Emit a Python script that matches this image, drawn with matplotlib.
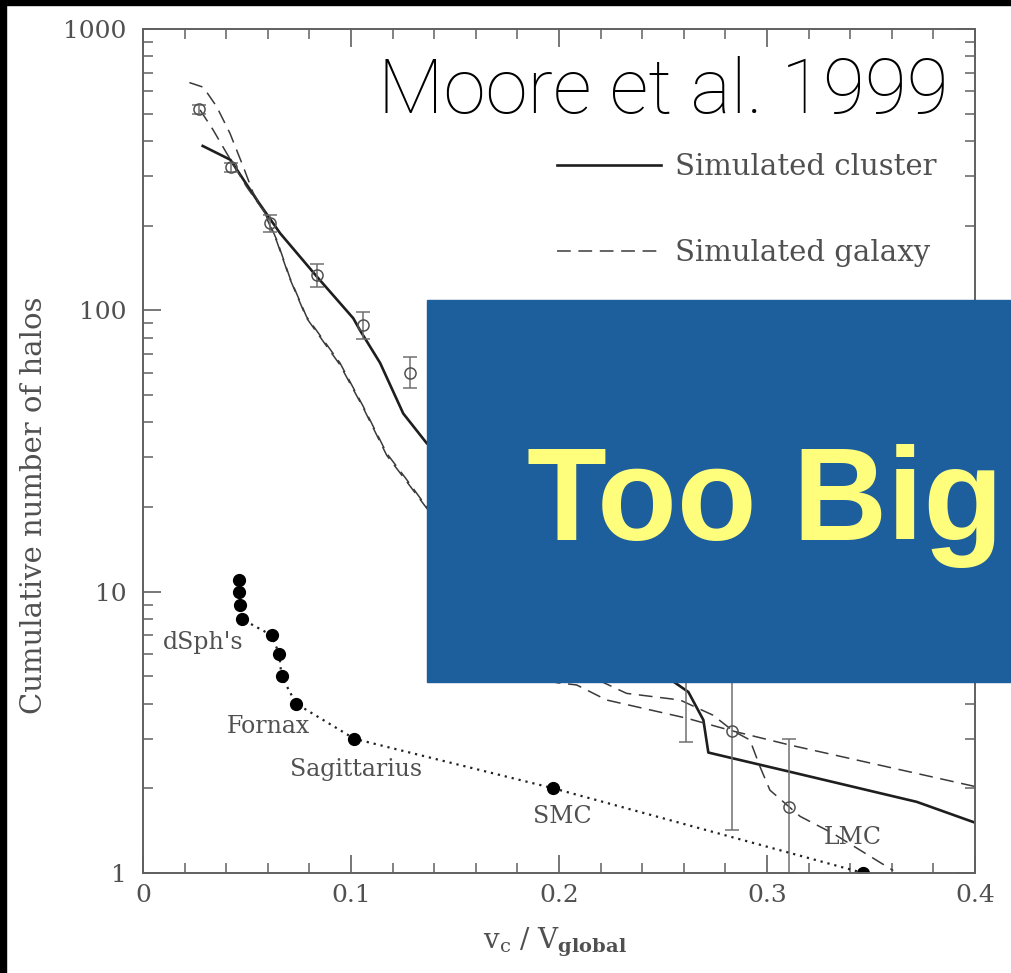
import matplotlib
matplotlib.use("Agg")
import matplotlib.pyplot as plt
from matplotlib.patches import Rectangle
from matplotlib.ticker import MultipleLocator, LogLocator, NullFormatter

# ---- data ----
# simulated cluster (solid)
cluster_x = [0.0287, 0.042, 0.0547, 0.0659, 0.0835, 0.1011, 0.1043, 0.114, 0.1251, 0.1364,
             0.16, 0.19, 0.22, 0.245, 0.255, 0.2622, 0.2694, 0.2718, 0.311, 0.372, 0.4]
cluster_n = [384, 343, 247, 188, 132, 93.7, 85, 65, 43, 33.7,
             24, 14, 8.5, 5.6, 4.79, 4.4, 3.5, 2.68, 2.29, 1.79, 1.51]

# simulated galaxy, two runs (dashed)
galaxy_a_x = [0.0223, 0.029, 0.0354, 0.0418, 0.0482, 0.053, 0.0579, 0.0643, 0.0707, 0.0786,
              0.0947, 0.1059, 0.1172, 0.1268, 0.1364, 0.16, 0.18, 0.19, 0.1988, 0.2085,
              0.2229, 0.2614, 0.2833, 0.311, 0.4]
galaxy_a_n = [645, 621, 530, 426, 324, 261, 228, 178, 130, 95,
              65, 45.5, 31, 25, 20, 10, 6, 5.0, 4.75, 4.66,
              4.12, 3.55, 3.2, 2.85, 2.03]
galaxy_b_x = [0.0274, 0.0337, 0.0402, 0.0498, 0.0579, 0.0643, 0.0707, 0.0786, 0.0947, 0.1059,
              0.1172, 0.1268, 0.1364, 0.16, 0.19, 0.215, 0.2325, 0.2582, 0.274, 0.2837,
              0.2918, 0.2966, 0.3014, 0.3159, 0.3319, 0.3607]
galaxy_b_n = [516, 438, 362, 275, 226, 176, 129, 94, 64, 45,
              30.5, 24.6, 19.8, 12, 7, 5, 4.35, 4.12, 3.64, 3.2,
              2.97, 2.39, 1.97, 1.59, 1.38, 1.02]

# Virgo cluster galaxies with error bars (open circles)
virgo_x = [0.0269, 0.0421, 0.061, 0.0835, 0.1059, 0.1284, 0.261, 0.2833, 0.3107]
virgo_n = [519, 323, 204, 134, 88.7, 60, 5.5, 3.2, 1.71]
virgo_lo = [20, 12, 14, 13, 9.7, 7, 2.57, 1.78, 0.71]
virgo_hi = [20, 12, 14, 12, 10, 8, 2.5, 3.0, 1.29]

# Milky Way satellites (filled circles)
sat_x = [0.0462, 0.0462, 0.0466, 0.0474, 0.0618, 0.0655, 0.0666, 0.0736, 0.1016, 0.1973, 0.3463]
sat_n = [11, 10, 9, 8, 7, 6, 5, 4, 3, 2, 1]

sat_names = ["dSph's", "Fornax", "Sagittarius", "SMC", "LMC"]
name_x = [0.0288, 0.0601, 0.1024, 0.2014, 0.3413]
name_n = [6.57, 3.33, 2.34, 1.59, 1.34]

x_ticks = [0, 0.1, 0.2, 0.3, 0.4]
x_ticklabels = ["0", "0.1", "0.2", "0.3", "0.4"]
y_ticks = [1, 10, 100, 1000]
y_ticklabels = ["1", "10", "100", "1000"]

W, H = 1012, 973
GREY = "#505050"
SERIF = "DejaVu Serif"

plt.rcParams["mathtext.fontset"] = "dejavuserif"
plt.rcParams["font.family"] = SERIF

fig = plt.figure(figsize=(W / 100, H / 100), dpi=100)
fig.patch.set_facecolor("white")


def fx(px):
    return px / W


def fy(py):
    return 1 - py / H


ax = fig.add_axes([fx(143), fy(873), fx(975) - fx(143), fy(29) - fy(873)])
ax.set_xlim(0, 0.4)
ax.set_yscale("log")
ax.set_ylim(1, 1000)

line_cl, = ax.plot(cluster_x, cluster_n, color="#1e1e1e", lw=1.9, label="Simulated cluster")
line_ga, = ax.plot(galaxy_a_x, galaxy_a_n, color="#3a3a3a", lw=1.1, dashes=(9, 5),
                   label="Simulated galaxy")
ax.plot(galaxy_b_x, galaxy_b_n, color="#3a3a3a", lw=1.1, dashes=(9, 5))

ax.errorbar(virgo_x, virgo_n, yerr=[virgo_lo, virgo_hi], fmt="o", mfc="none", mec=GREY,
            ecolor="#707070", ms=8, mew=1.1, elinewidth=1.1, capsize=5, capthick=1.1)

ax.plot(sat_x, sat_n, ls=(0, (1, 2.2)), lw=1.6, color="#222222", marker="o", ms=8.5,
        mfc="black", mec="black")

for name, x, n in zip(sat_names, name_x, name_n):
    ax.text(x, n, name, fontsize=17, color=GREY, ha="center", va="center")

# axes frame and ticks
for s in ax.spines.values():
    s.set_color("#606060")
    s.set_linewidth(1.4)
ax.set_xticks(x_ticks)
ax.set_xticklabels(x_ticklabels)
ax.xaxis.set_minor_locator(MultipleLocator(0.02))
ax.set_yticks(y_ticks)
ax.set_yticklabels(y_ticklabels)
ax.yaxis.set_minor_locator(LogLocator(base=10, subs=range(2, 10)))
ax.yaxis.set_minor_formatter(NullFormatter())
ax.tick_params(which="both", direction="in", top=True, right=True, colors="#606060",
               labelcolor=GREY, labelsize=18)
ax.tick_params(which="major", length=13, width=1.2)
ax.tick_params(which="minor", length=7, width=1.1)
ax.tick_params(axis="x", pad=8)
ax.tick_params(axis="y", pad=12)

ax.set_ylabel("Cumulative number of halos", fontsize=21, color=GREY)
ax.yaxis.set_label_coords((48 - 143) / 832, (873 - 505) / 844)
ax.set_xlabel(r"v$_{\rm c}$ / V$_{\bf global}$", fontsize=20, color=GREY)
ax.xaxis.set_label_coords((555 - 143) / 832, -(926 - 873) / 844)

leg = ax.legend(handles=[line_cl, line_ga], loc="upper left",
                bbox_to_anchor=((557 - 143) / 832, (873 - 153) / 844),
                frameon=False, fontsize=21, handlelength=3.55, handletextpad=0.5,
                labelspacing=2.0, borderpad=0, borderaxespad=0)
for t in leg.get_texts():
    t.set_color(GREY)

fig.text(fx(378), fy(113), "Moore et al. 1999", fontsize=55, family="Roboto",
         weight="light", color="black", ha="left", va="baseline")

# slide overlay
fig.patches.append(Rectangle((fx(427), fy(682)), 1 - fx(427), fy(300) - fy(682),
                             transform=fig.transFigure, color="#1d5e9c", zorder=10))
fig.text(fx(527), fy(540), "Too Big", fontsize=94, family="Liberation Sans",
         weight="bold", color="#fefd7c", ha="left", va="baseline", zorder=11)

# black edges
fig.patches.append(Rectangle((0, fy(5)), 1, 1 - fy(5), transform=fig.transFigure,
                             color="black", zorder=12))
fig.patches.append(Rectangle((0, 0), fx(6), 1, transform=fig.transFigure,
                             color="black", zorder=12))

fig.savefig("out.png", dpi=100)
